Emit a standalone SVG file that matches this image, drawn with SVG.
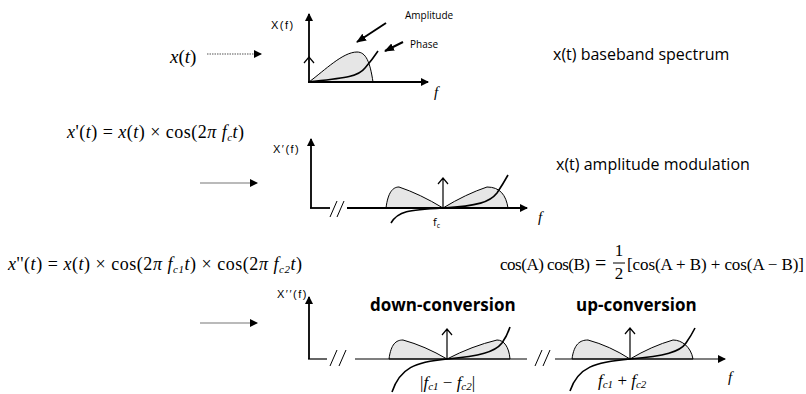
<svg xmlns="http://www.w3.org/2000/svg" width="806" height="394" viewBox="0 0 806 394">
<style>
.ax{stroke:#000;stroke-width:1.8;fill:none}
.lobe{fill:#e6e6e6;stroke:#000;stroke-width:1}
.ph{fill:none;stroke:#000;stroke-width:1.6}
.imp{fill:none;stroke:#000;stroke-width:1.2}
.lab{font-family:"Open Sans","Liberation Sans",sans-serif;fill:#000}
.math{font-family:"Liberation Serif","Times New Roman",serif;fill:#000}
.it{font-style:italic}
.axl{font-family:"Liberation Sans",Arial,sans-serif;font-size:11px;letter-spacing:1.5px;fill:#000}
</style>
<defs>
<marker id="ah" markerWidth="8" markerHeight="8" refX="7" refY="4" orient="auto" markerUnits="userSpaceOnUse"><path d="M0,0 L8,4 L0,8 Z" fill="#000"/></marker>
<marker id="ah2" markerWidth="10" markerHeight="10" refX="9" refY="5" orient="auto" markerUnits="userSpaceOnUse"><path d="M0,1 L10,5 L0,9 Z" fill="#000"/></marker>
</defs>

<g id="connectors">
<line x1="207" y1="54" x2="261" y2="54" stroke="#555" stroke-width="1.2" stroke-dasharray="1.5,1" marker-end="url(#ah)"/>
<line x1="200" y1="183" x2="257" y2="183" stroke="#777" stroke-width="1.2" marker-end="url(#ah)"/>
<line x1="200" y1="323" x2="257" y2="323" stroke="#777" stroke-width="1.2" marker-end="url(#ah)"/>
<line x1="386" y1="23" x2="357" y2="42" stroke="#000" stroke-width="2" marker-end="url(#ah2)"/>
<line x1="403" y1="42" x2="385" y2="51" stroke="#000" stroke-width="2" marker-end="url(#ah2)"/>
</g>

<g id="row1">
<text x="170" y="63" class="math it" font-size="19">x<tspan font-style="normal">(</tspan>t<tspan font-style="normal">)</tspan></text>
<text x="271" y="29" class="axl">X(f)</text>
<path class="lobe" d="M309,82 C325,70 343,52 357,52 C366,52 370,62 373,82 Z"/>
<path class="ph" d="M309,82 C345,78 358,77 365,68 Q372,60 378,51"/>
<line class="ax" x1="309" y1="83" x2="309" y2="14" marker-end="url(#ah)"/>
<line class="ax" x1="308" y1="82" x2="428" y2="82" marker-end="url(#ah)"/>
<path class="imp" d="M304,63 L309,57 L314,63"/>
<text x="405" y="19" class="lab" font-size="10">Amplitude</text>
<text x="410" y="48" class="lab" font-size="10">Phase</text>
<text x="434" y="97" class="math it" font-size="15">f</text>
<text x="553" y="60" class="lab" font-size="16">x(t) baseband spectrum</text>
</g>

<g id="row2">
<text x="67" y="138" class="math" font-size="18" textLength="177" lengthAdjust="spacing"><tspan class="it">x</tspan>'(<tspan class="it">t</tspan>) = <tspan class="it">x</tspan>(<tspan class="it">t</tspan>) × cos(2<tspan class="it">π f</tspan><tspan class="it" font-size="11" dy="3">c</tspan><tspan class="it" dy="-3">t</tspan>)</text>
<text x="273" y="153" class="axl">X′(f)</text>
<path class="lobe" d="M386,208 C388,192 393,187 399,187 Q420,194 443,208 Q466,194 487,187 C500,187 506,195 508,208 Z"/>
<path class="ph" d="M391,223 C398,211 408,210 443,208 C478,206 490,202 497,193 Q503,184 508,175"/>
<line class="ax" x1="311" y1="208" x2="311" y2="139" marker-end="url(#ah)"/>
<line class="ax" x1="310" y1="208" x2="330" y2="208"/>
<line stroke="#000" stroke-width="1" x1="330" y1="217" x2="337" y2="201"/>
<line stroke="#000" stroke-width="1" x1="337" y1="217" x2="344" y2="201"/>
<line class="ax" x1="347" y1="208" x2="527" y2="208" marker-end="url(#ah)"/>
<path class="imp" d="M443,208 L443,178 M438,184 L443,178 L448,184"/>
<text x="433" y="226" class="lab" font-size="11">f<tspan font-size="7" dy="2">c</tspan></text>
<text x="538" y="222" class="math it" font-size="15">f</text>
<text x="556" y="170" class="lab" font-size="16">x(t) amplitude modulation</text>
</g>

<g id="row3">
<text x="8" y="270" class="math" font-size="18" textLength="294" lengthAdjust="spacing"><tspan class="it">x</tspan>''(<tspan class="it">t</tspan>) = <tspan class="it">x</tspan>(<tspan class="it">t</tspan>) × cos(2<tspan class="it">π f</tspan><tspan class="it" font-size="11" dy="3">c1</tspan><tspan class="it" dy="-3">t</tspan>) × cos(2<tspan class="it">π f</tspan><tspan class="it" font-size="11" dy="3">c2</tspan><tspan class="it" dy="-3">t</tspan>)</text>
<text x="500" y="270" class="math" font-size="17" textLength="90" lengthAdjust="spacing">cos(A) cos(B)</text>
<text x="595" y="270" class="math" font-size="20">=</text>
<text x="619" y="256" class="math" font-size="17" text-anchor="middle">1</text>
<line x1="613" y1="263" x2="625" y2="263" stroke="#000" stroke-width="1"/>
<text x="619" y="279" class="math" font-size="17" text-anchor="middle">2</text>
<text x="627" y="270" class="math" font-size="17" textLength="177" lengthAdjust="spacing">[cos(A + B) + cos(A − B)]</text>
<text x="277" y="298" class="axl">X′′(f)</text>
<text x="370" y="311" class="lab" font-size="17" font-weight="bold">down-conversion</text>
<text x="576" y="311" class="lab" font-size="17" font-weight="bold">up-conversion</text>
<path class="lobe" d="M389,359 C391,344 396,340 403,340 Q425,346 447,359 Q472,346 497,340 C504,340 509,347 510,359 Z"/>
<path class="lobe" d="M572,359 C574,344 580,340 588,340 Q610,346 630,359 Q652,346 673,340 C682,340 691,347 693,359 Z"/>
<path class="ph" d="M392,392 C400,368 415,362 447,359 C480,356 495,352 502,343 Q507,336 510,327"/>
<path class="ph" d="M570,391 C578,367 595,362 630,359 C665,356 680,352 686,343 Q691,336 695,328"/>
<line class="ax" x1="309" y1="359" x2="309" y2="297" marker-end="url(#ah)"/>
<line stroke="#000" stroke-width="1.2" x1="308" y1="359" x2="327" y2="359"/>
<line stroke="#000" stroke-width="1" x1="330" y1="366" x2="337" y2="350"/>
<line stroke="#000" stroke-width="1" x1="339" y1="366" x2="346" y2="350"/>
<line stroke="#000" stroke-width="1.2" x1="355" y1="359" x2="527" y2="359"/>
<line stroke="#000" stroke-width="1" x1="535" y1="366" x2="542" y2="350"/>
<line stroke="#000" stroke-width="1" x1="543" y1="366" x2="550" y2="350"/>
<line stroke="#000" stroke-width="1.2" x1="555" y1="359" x2="725" y2="359" marker-end="url(#ah)"/>
<path class="imp" d="M447,359 L447,329 M442,335 L447,329 L452,335"/>
<path class="imp" d="M630,359 L630,328 M625,334 L630,328 L635,334"/>
<text x="420" y="388" class="math" font-size="17">|<tspan class="it">f</tspan><tspan class="it" font-size="11" dy="2">c1</tspan><tspan dy="-2"> − </tspan><tspan class="it">f</tspan><tspan class="it" font-size="11" dy="2">c2</tspan><tspan dy="-2">|</tspan></text>
<text x="598" y="386" class="math" font-size="17"><tspan class="it">f</tspan><tspan class="it" font-size="11" dy="2">c1</tspan><tspan dy="-2"> + </tspan><tspan class="it">f</tspan><tspan class="it" font-size="11" dy="2">c2</tspan></text>
<text x="728" y="382" class="math it" font-size="15">f</text>
</g>
</svg>
